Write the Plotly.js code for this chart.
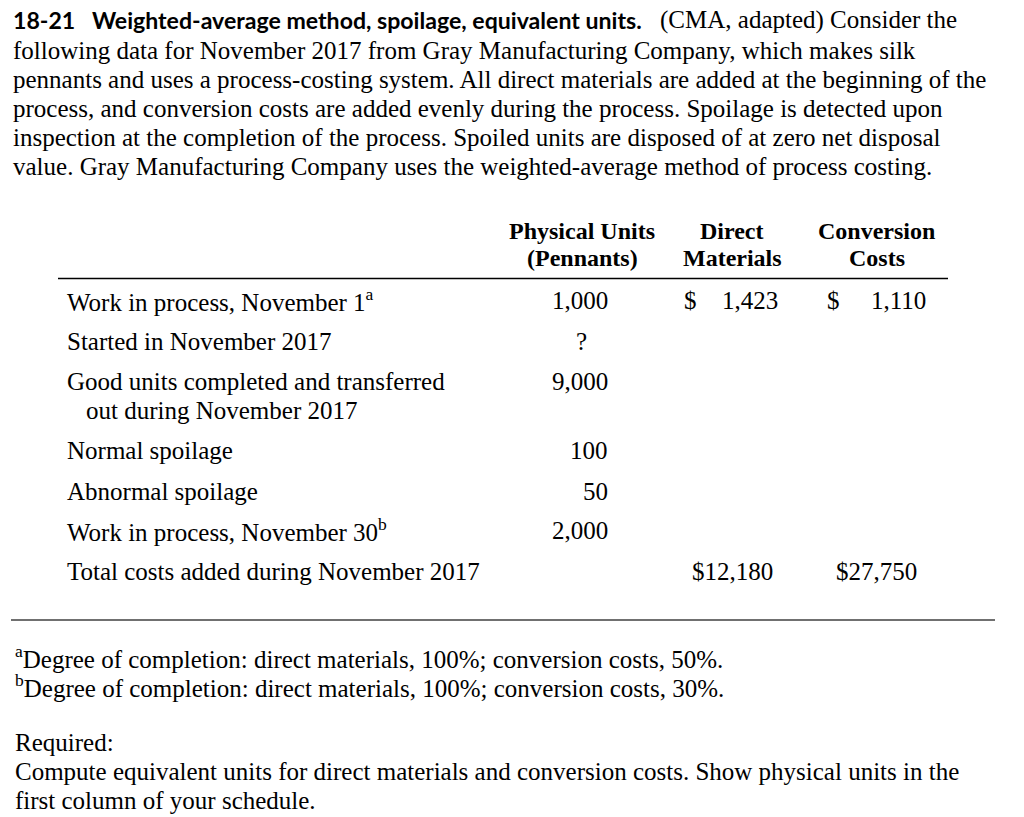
<!DOCTYPE html>
<html>
<head>
<meta charset="utf-8">
<script src="https://cdn.plot.ly/plotly-3.0.1.min.js"></script>
<style>html,body{margin:0;padding:0;background:#fff;}#chart{width:1024px;height:817px;}</style>
</head>
<body>
<div id="chart"></div>
<script>
// ---- Data ----
const problemNumber = "18-21";
const problemTitle = "Weighted-average method, spoilage, equivalent units.";
const introLines = [
  "(CMA, adapted) Consider the",
  "following data for November 2017 from Gray Manufacturing Company, which makes silk",
  "pennants and uses a process-costing system. All direct materials are added at the beginning of the",
  "process, and conversion costs are added evenly during the process. Spoilage is detected upon",
  "inspection at the completion of the process. Spoiled units are disposed of at zero net disposal",
  "value. Gray Manufacturing Company uses the weighted-average method of process costing."
];
const columnHeaders = [["Physical Units", "(Pennants)"], ["Direct", "Materials"], ["Conversion", "Costs"]];
const rowLabels = [
  ["Work in process, November 1<sup>a</sup>"],
  ["Started in November 2017"],
  ["Good units completed and transferred", "out during November 2017"],
  ["Normal spoilage"],
  ["Abnormal spoilage"],
  ["Work in process, November 30<sup>b</sup>"],
  ["Total costs added during November 2017"]
];
const physicalUnits = ["1,000", "?", "9,000", "100", "50", "2,000", ""];
const directMaterials = ["1,423", "", "", "", "", "", "$12,180"];
const conversionCosts = ["1,110", "", "", "", "", "", "$27,750"];
const footnoteMarks = ["a", "b"];
const footnotes = [
  "Degree of completion: direct materials, 100%; conversion costs, 50%.",
  "Degree of completion: direct materials, 100%; conversion costs, 30%."
];
const requiredLines = [
  "Required:",
  "Compute equivalent units for direct materials and conversion costs. Show physical units in the",
  "first column of your schedule."
];

// ---- Fonts ----
const SERIF = "Liberation Serif, Times New Roman, serif";
const TITLEFONT = "Lato, Roboto, sans-serif";
const SIZE = 25;
const TITLE_WIDTH = 629; // target width of the bold heading in px
const titleText = problemNumber + "\u00a0\u00a0 " + problemTitle;

const ann = [];
function t(x, y, text, opts) {
  opts = opts || {};
  ann.push({
    x: x, y: y, xref: "x", yref: "y", text: text, showarrow: false,
    xanchor: opts.xa || "left", yanchor: "middle", align: opts.xa || "left",
    borderpad: 0,
    font: {family: opts.family || SERIF, size: opts.size || SIZE, color: "#000",
           weight: opts.bold ? "bold" : "normal"}
  });
}

// Title line (index 0)
t(12, 20, titleText, {family: TITLEFONT, size: 22, bold: true});
t(659, 20, introLines[0]);
const introY = [50, 79, 108, 137, 166];
for (let i = 1; i < introLines.length; i++) t(12, introY[i - 1], introLines[i]);

// Column headers
const colCenters = [582, 732, 876.5];
colCenters.forEach((cx, i) => {
  t(cx, 231, columnHeaders[i][0], {xa: "center", bold: true, size: 24});
  t(cx, 258, columnHeaders[i][1], {xa: "center", bold: true, size: 24});
});

// Rows
const rowY = [300, 341, 381, 450, 491, 530, 571];
rowLabels.forEach((lines, i) => {
  t(66, rowY[i], lines[0]);
  if (lines[1]) t(85, rowY[i] + 29, lines[1]);
});
physicalUnits.forEach((v, i) => {
  if (!v) return;
  if (v === "?") t(581, rowY[i], v, {xa: "center"});
  else t(609, rowY[i], v, {xa: "right"});
});
directMaterials.forEach((v, i) => {
  if (!v) return;
  if (v.startsWith("$")) t(732, rowY[i], v, {xa: "center"});
  else { t(683, rowY[i], "$"); t(779, rowY[i], v, {xa: "right"}); }
});
conversionCosts.forEach((v, i) => {
  if (!v) return;
  if (v.startsWith("$")) t(876.5, rowY[i], v, {xa: "center"});
  else { t(826, rowY[i], "$"); t(927, rowY[i], v, {xa: "right"}); }
});

// Footnotes and requirement
t(14, 657, "<sup>" + footnoteMarks[0] + "</sup>" + footnotes[0]);
t(14, 686, "<sup>" + footnoteMarks[1] + "</sup>" + footnotes[1]);
t(14, 742, requiredLines[0]);
t(14, 771, requiredLines[1]);
t(14, 800, requiredLines[2]);

const shapes = [
  {type: "line", xref: "x", yref: "y", x0: 58, x1: 948, y0: 278.5, y1: 278.5, line: {color: "#000", width: 1.5}},
  {type: "line", xref: "x", yref: "y", x0: 11, x1: 995, y0: 620, y1: 620, line: {color: "#707070", width: 1.8}}
];

Plotly.newPlot("chart", [], {
  width: 1024, height: 817,
  margin: {l: 0, r: 0, t: 0, b: 0, pad: 0},
  paper_bgcolor: "#fff", plot_bgcolor: "#fff",
  xaxis: {range: [0, 1024], visible: false, fixedrange: true},
  yaxis: {range: [817, 0], visible: false, fixedrange: true},
  showlegend: false,
  annotations: ann,
  shapes: shapes
}, {staticPlot: true, displayModeBar: false}).then(function (gd) {
  // fit the heading's font size to the reference width
  const el = gd.querySelector('.annotation[data-index="0"] text');
  if (el) {
    const bw = el.getBBox().width;
    if (bw > 0) {
      const s = Math.max(16, Math.min(28, 22 * TITLE_WIDTH / bw));
      Plotly.relayout(gd, {"annotations[0].font.size": s});
    }
  }
});
</script>
</body>
</html>
